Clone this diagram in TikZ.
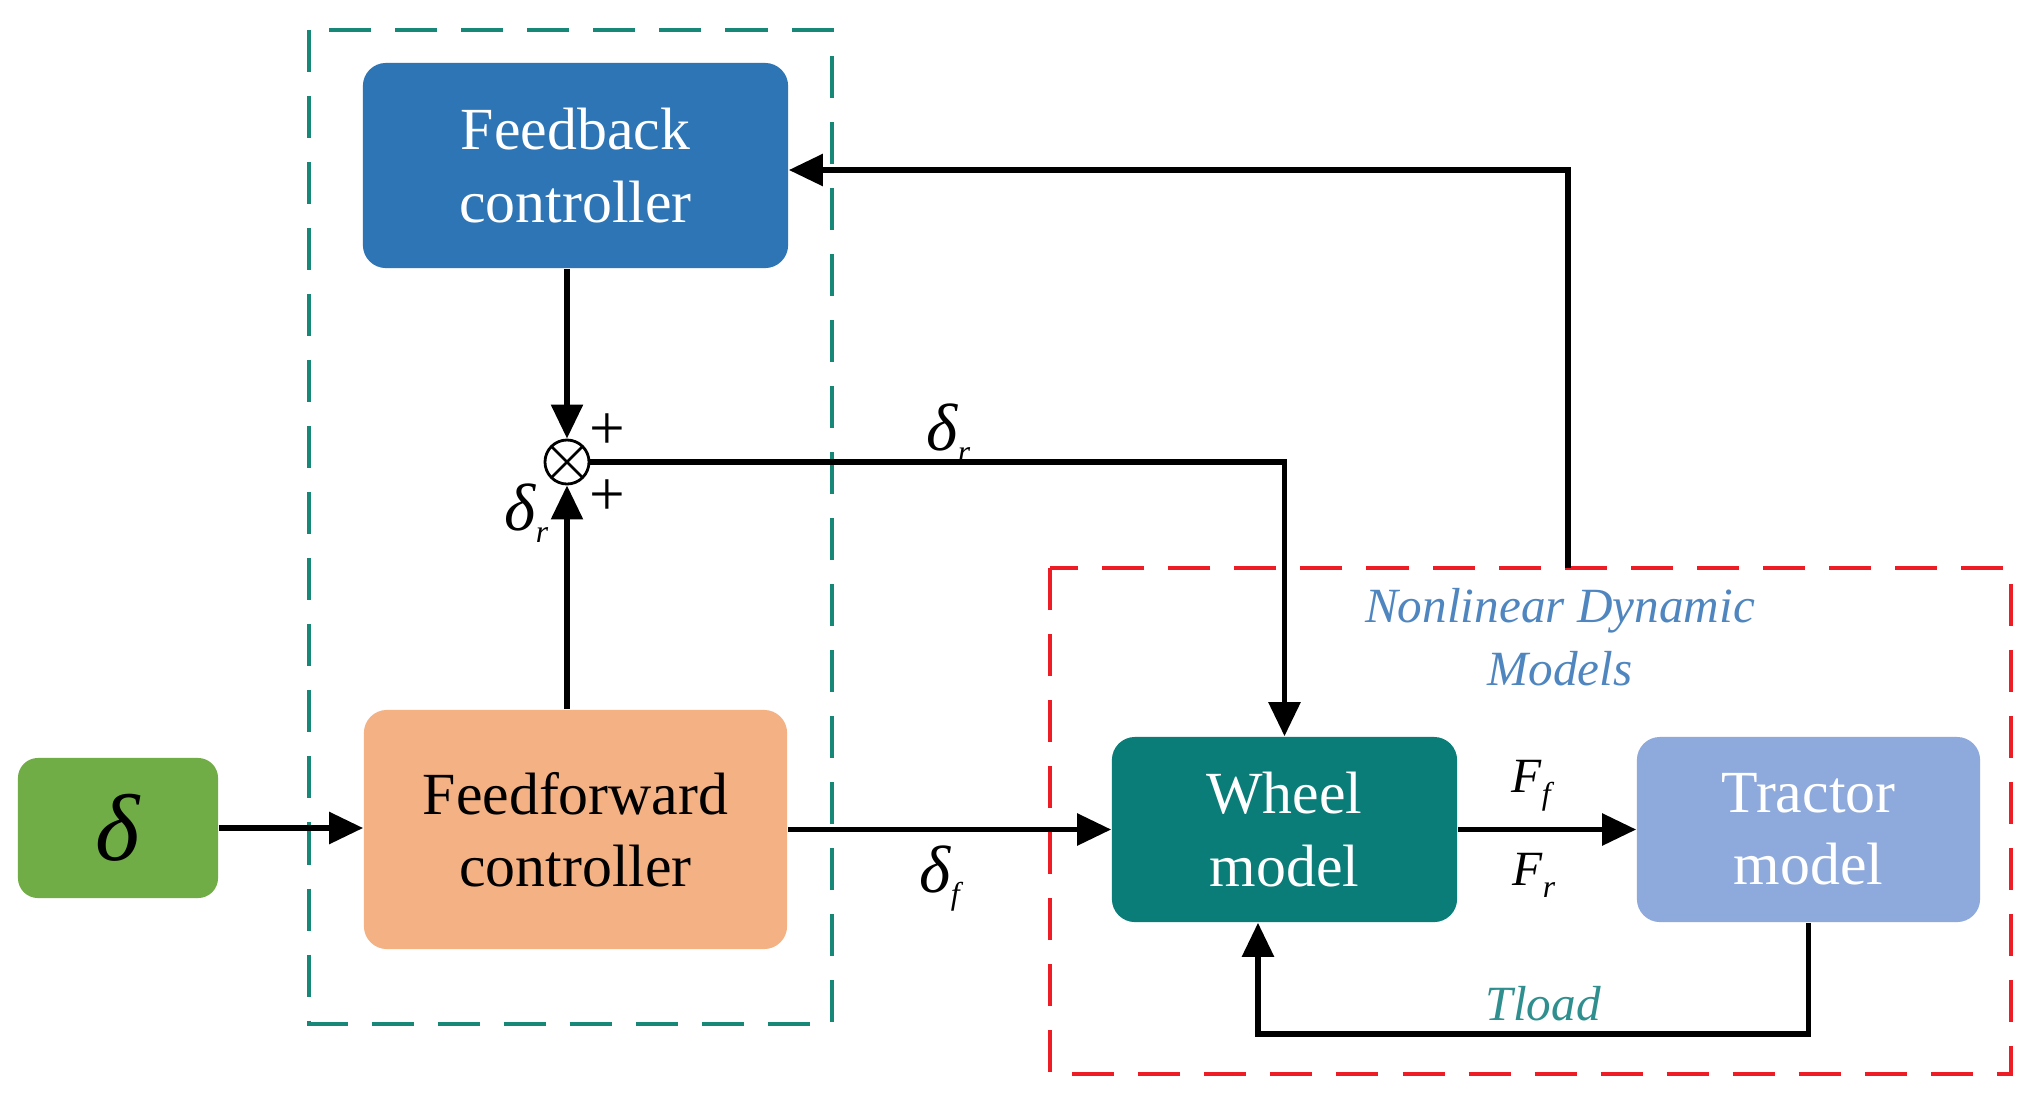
\documentclass[tikz,border=0pt]{standalone}
\usepackage{fontspec}
\setmainfont{Liberation Serif}
\usetikzlibrary{arrows.meta}
\definecolor{fbblue}{HTML}{2E75B6}
\definecolor{ffor}{HTML}{F4B183}
\definecolor{dgreen}{HTML}{70AD47}
\definecolor{wteal}{HTML}{0A7D78}
\definecolor{tblue}{HTML}{8EA9DB}
\definecolor{boxteal}{HTML}{178778}
\definecolor{boxred}{HTML}{EE1C25}
\definecolor{nlblue}{HTML}{4F86C0}
\definecolor{tlteal}{HTML}{2F8F8F}
\newcommand\lsub[1]{\raisebox{-3.6pt}{\fontsize{9pt}{9pt}\selectfont\itshape #1}}
\tikzset{
  blk/.style={rounded corners=0.23cm, inner sep=0pt, align=center,
    font=\fontsize{17pt}{20.5pt}\selectfont},
  arr/.style={line width=0.056cm, -{Triangle[length=0.34cm,width=0.31cm]}},
  dashbox/.style={line width=0.048cm, dash pattern=on 0.42cm off 0.24cm},
  lbl/.style={inner sep=0pt, font=\fontsize{14pt}{14pt}\selectfont\itshape},
  dlbl/.style={inner sep=0pt, font=\fontsize{19pt}{19pt}\selectfont\itshape},
  plus/.style={inner sep=0pt, font=\fontsize{18pt}{18pt}\selectfont}
}
\begin{document}
\begin{tikzpicture}[x=0.01cm,y=-0.01cm]
\useasboundingbox[fill=white] (0,0) rectangle (2041,1105);

% dashed group boxes
\draw[dashbox, boxteal] (309,30) rectangle (832,1024);
\draw[dashbox, boxred] (1050,568) rectangle (2011,1074);

% blocks
\node[blk, fill=fbblue, text=white, minimum width=4.25cm, minimum height=2.05cm] (fb) at (575.5,165.5) {Feedback\\controller};
\node[blk, fill=ffor, minimum width=4.23cm, minimum height=2.39cm] (ff) at (575.5,829.5) {Feedforward\\controller};
\node[blk, fill=dgreen, minimum width=2cm, minimum height=1.4cm, rounded corners=0.2cm,
      font=\fontsize{27pt}{27pt}\selectfont\itshape] (d) at (118,828) {δ};
\node[blk, fill=wteal, text=white, minimum width=3.45cm, minimum height=1.85cm] (wh) at (1284.5,829.5) {Wheel\\model};
\node[blk, fill=tblue, text=white, minimum width=3.43cm, minimum height=1.85cm] (tr) at (1808.5,829.5) {Tractor\\model};

% summing junction
\node[circle, draw, line width=0.028cm, minimum size=0.44cm, inner sep=0pt,
  path picture={\draw[line width=0.028cm]
    (path picture bounding box.north west) -- (path picture bounding box.south east)
    (path picture bounding box.north east) -- (path picture bounding box.south west);}]
  (sum) at (567,462) {};

% connectors
\coordinate (fbtap) at (1568,568);
\draw[arr] (d.east) -- (d.east -| ff.west);
\draw[arr] (ff.east) -- (wh.west);
\draw[arr] (wh.east) -- (tr.west);
\draw[arr] (sum |- fb.south) -- (sum.north);
\draw[arr] (sum |- ff.north) -- (sum.south);
\draw[arr] (sum.east) -| (wh.north);
\draw[arr] (fbtap) |- ([yshift=-0.045cm]fb.east);
\draw[arr] (tr.south) -- ++(0,111) -| ([xshift=-0.265cm]wh.south);

% labels
\node[plus] (p1) at (607,432) {+};
\node[plus] (p2) at (607,498) {+};
\node[dlbl, anchor=base west] (dr1) at (926,450) {δ\lsub{r}};
\node[dlbl, anchor=base west] (dr2) at (504,530) {δ\lsub{r}};
\node[dlbl, anchor=base west] (df) at (919,892) {δ\lsub{f}};
\node[lbl, anchor=base west] (Ff) at (1511,792) {F\lsub{f}};
\node[lbl, anchor=base west] (Fr) at (1512,885) {F\lsub{r}};
\node[lbl, anchor=base, text=nlblue] (nl1) at (1560,622) {Nonlinear Dynamic};
\node[lbl, anchor=base, text=nlblue] (nl2) at (1560,685) {Models};
\node[lbl, anchor=base west, text=tlteal] (tl) at (1485,1020) {Tload};
\end{tikzpicture}
\end{document}
